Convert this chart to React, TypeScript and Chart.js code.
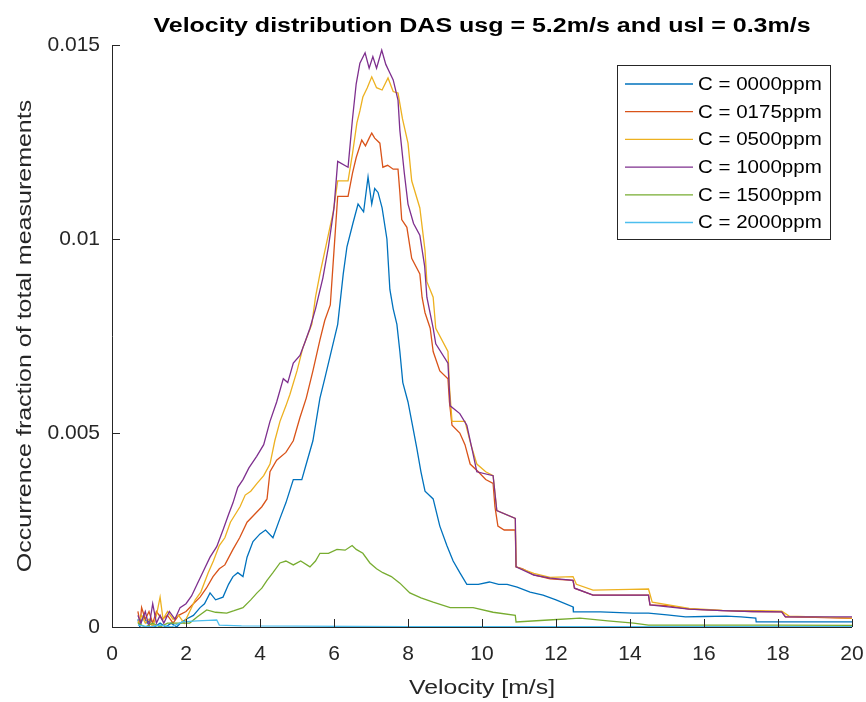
import React, { useEffect, useRef } from "react";
import { Chart, registerables } from "chart.js";

Chart.register(...registerables);

const TITLE = "Velocity distribution DAS usg = 5.2m/s and usl = 0.3m/s";
const X_TITLE = "Velocity [m/s]";
const Y_TITLE = "Occurrence fraction of total measurements";

const seriesLabels = ["C = 0000ppm", "C = 0175ppm", "C = 0500ppm", "C = 1000ppm", "C = 1500ppm", "C = 2000ppm"];
const seriesColors = ["#0072BD", "#D95319", "#EDB120", "#7E2F8E", "#77AC30", "#4DBEEE"];

const xTicks = [0, 2, 4, 6, 8, 10, 12, 14, 16, 18, 20];
const yTicks = [0, 0.005, 0.01, 0.015];

const c0000: number[][] = [
  [0.7, 0.0002], [0.75, 0], [0.85, 0.0003], [0.95, 0.0001], [1.05, 0.0002], [1.15, 0], [1.3, 0.0001], [1.45, 0],
  [1.6, 0.0001], [1.75, 0], [1.85, 0.0001], [2.0, 0.0002], [2.2, 0.0003], [2.38, 0.0005], [2.5, 0.0006], [2.65, 0.00088],
  [2.8, 0.0007], [3.0, 0.00077], [3.15, 0.0011], [3.27, 0.0013], [3.4, 0.0014], [3.54, 0.0013], [3.65, 0.0018], [3.81, 0.0022],
  [4.0, 0.0024], [4.15, 0.0025], [4.35, 0.0023], [4.54, 0.0028], [4.7, 0.0032], [4.9, 0.0038], [5.13, 0.0038], [5.25, 0.0042],
  [5.43, 0.0048], [5.62, 0.0059], [5.75, 0.0064], [5.9, 0.007], [6.1, 0.0078], [6.25, 0.0091], [6.35, 0.0098], [6.51, 0.0104],
  [6.65, 0.0109], [6.8, 0.0107], [6.92, 0.0116], [7.02, 0.0109], [7.1, 0.0113], [7.19, 0.0112], [7.3, 0.0108], [7.43, 0.01],
  [7.51, 0.0087], [7.6, 0.0082], [7.7, 0.0078], [7.78, 0.0071], [7.86, 0.0063], [8.0, 0.0058], [8.12, 0.0052], [8.24, 0.0046],
  [8.35, 0.004], [8.46, 0.0035], [8.68, 0.0033], [8.86, 0.0026], [9.05, 0.0021], [9.22, 0.0017], [9.4, 0.0014], [9.59, 0.0011],
  [9.9, 0.0011], [10.2, 0.00116], [10.45, 0.0011], [10.68, 0.0011], [10.95, 0.00103], [11.3, 0.0009], [11.65, 0.00082],
  [12.0, 0.0007], [12.46, 0.00052], [12.47, 0.00039], [13.2, 0.00039], [14.08, 0.00036], [14.5, 0.00036], [15.0, 0.00031],
  [15.5, 0.00026], [16.0, 0.00027], [16.6, 0.00028], [17.0, 0.00026], [17.4, 0.00023], [17.41, 0.00013], [18.5, 0.00013],
  [19.5, 0.00013], [20, 0.00013],
];

const c0175: number[][] = [
  [0.7, 0.0004], [0.76, 0.0001], [0.8, 0.0005], [0.9, 0.0002], [1.0, 0.0004], [1.1, 0.0001], [1.2, 0.0004], [1.35, 0.0002],
  [1.5, 0.0003], [1.65, 0.0001], [1.8, 0.0003], [2.0, 0.0004], [2.2, 0.0006], [2.38, 0.00077], [2.55, 0.001], [2.73, 0.0013],
  [2.9, 0.0015], [3.05, 0.0016], [3.27, 0.002], [3.45, 0.0023], [3.65, 0.0027], [3.85, 0.0029], [4.05, 0.0031], [4.19, 0.0033],
  [4.27, 0.004], [4.45, 0.0043], [4.7, 0.0045], [4.9, 0.0048], [5.08, 0.0054], [5.25, 0.0059], [5.43, 0.0066], [5.62, 0.0074],
  [5.75, 0.0079], [5.9, 0.0083], [6.0, 0.0097], [6.1, 0.0111], [6.38, 0.0111], [6.5, 0.0117], [6.6, 0.0121], [6.75, 0.01255],
  [6.85, 0.0124], [6.95, 0.0126], [7.02, 0.01273], [7.1, 0.0126], [7.24, 0.01247], [7.32, 0.01185], [7.45, 0.0119], [7.6, 0.0118],
  [7.73, 0.0118], [7.78, 0.0112], [7.83, 0.0105], [7.97, 0.0103], [8.1, 0.0095], [8.32, 0.0091], [8.38, 0.0085], [8.46, 0.0081],
  [8.6, 0.0077], [8.68, 0.0071], [8.86, 0.0066], [9.08, 0.0064], [9.12, 0.0058], [9.19, 0.0052], [9.4, 0.005], [9.54, 0.0047],
  [9.68, 0.0042], [9.9, 0.004], [10.1, 0.0038], [10.3, 0.0037], [10.35, 0.0031], [10.43, 0.0026], [10.6, 0.0025], [10.9, 0.0025],
  [10.92, 0.00155], [11.1, 0.0015], [11.4, 0.00134], [11.84, 0.00124], [12.46, 0.0012], [12.5, 0.001], [13.0, 0.00082],
  [14.0, 0.00082], [14.5, 0.00082], [14.54, 0.00057], [15.0, 0.00055], [15.6, 0.00046], [16.5, 0.00042], [17.3, 0.0004],
  [18.1, 0.00039], [18.2, 0.00026], [19.0, 0.00025], [20, 0.00022],
];

const c0500: number[][] = [
  [0.7, 0.0001], [0.8, 0.0003], [0.9, 0.0001], [1.0, 0.0002], [1.1, 0], [1.2, 0.0003], [1.3, 0.00077], [1.38, 0.0002],
  [1.5, 0.0004], [1.65, 0.0002], [1.8, 0.0003], [1.95, 0.0001], [2.1, 0.0004], [2.25, 0.0007], [2.4, 0.0009], [2.6, 0.0014],
  [2.74, 0.0017], [2.9, 0.0021], [3.05, 0.0023], [3.2, 0.0027], [3.46, 0.0031], [3.6, 0.0034], [3.75, 0.0035], [3.92, 0.0037],
  [4.1, 0.0039], [4.27, 0.0042], [4.4, 0.0048], [4.54, 0.0053], [4.7, 0.0057], [4.81, 0.006], [5.0, 0.0066], [5.16, 0.0072],
  [5.4, 0.0078], [5.5, 0.0085], [5.62, 0.0091], [5.8, 0.0099], [5.98, 0.0107], [6.1, 0.0115], [6.38, 0.0115], [6.5, 0.0122],
  [6.62, 0.013], [6.7, 0.0133], [6.78, 0.01366], [6.9, 0.0139], [7.02, 0.01418], [7.15, 0.0139], [7.3, 0.01384], [7.46, 0.01415],
  [7.6, 0.0138], [7.73, 0.01376], [7.85, 0.0131], [8.0, 0.01247], [8.1, 0.0115], [8.32, 0.0108], [8.46, 0.0097], [8.51, 0.0089],
  [8.68, 0.0085], [8.75, 0.0077], [9.08, 0.0071], [9.12, 0.0062], [9.19, 0.0053], [9.54, 0.0053], [9.7, 0.0047], [9.86, 0.0042],
  [10.1, 0.004], [10.3, 0.0039], [10.4, 0.003], [10.9, 0.0028], [10.92, 0.00155], [11.4, 0.00138], [11.84, 0.00128],
  [12.46, 0.0013], [12.55, 0.0011], [13.0, 0.00095], [14.0, 0.00097], [14.5, 0.00098], [14.6, 0.00064], [15.6, 0.00048],
  [16.5, 0.00043], [17.5, 0.00042], [18.1, 0.00041], [18.3, 0.00028], [19.0, 0.00026], [20, 0.00023],
];

const c1000: number[][] = [
  [0.7, 0.0003], [0.78, 0.0001], [0.9, 0.0004], [1.0, 0], [1.1, 0.0006], [1.2, 0.0001], [1.3, 0.0003], [1.4, 0.0001],
  [1.55, 0.0004], [1.7, 0.0002], [1.84, 0.0005], [2.0, 0.0006], [2.15, 0.0008], [2.3, 0.0011], [2.5, 0.0015], [2.65, 0.0018],
  [2.83, 0.00207], [3.0, 0.0025], [3.15, 0.0029], [3.27, 0.0032], [3.4, 0.0036], [3.54, 0.0038], [3.7, 0.0041], [3.91, 0.0044],
  [4.1, 0.0047], [4.27, 0.0053], [4.45, 0.0058], [4.63, 0.0064], [4.75, 0.0063], [4.9, 0.0068], [5.08, 0.007], [5.2, 0.0073],
  [5.35, 0.0077], [5.5, 0.0082], [5.7, 0.009], [5.85, 0.0098], [6.0, 0.0108], [6.1, 0.012], [6.38, 0.01185], [6.5, 0.0131],
  [6.6, 0.014], [6.7, 0.01453], [6.84, 0.0148], [6.95, 0.0144], [7.05, 0.0147], [7.15, 0.0144], [7.29, 0.01487], [7.4, 0.0145],
  [7.51, 0.01428], [7.6, 0.0141], [7.73, 0.01358], [7.78, 0.0128], [7.9, 0.0117], [8.0, 0.0109], [8.15, 0.0104], [8.32, 0.0101],
  [8.45, 0.0093], [8.51, 0.0085], [8.68, 0.0077], [8.75, 0.0073], [9.08, 0.0068], [9.14, 0.0057], [9.4, 0.0055], [9.59, 0.0052],
  [9.75, 0.0045], [9.86, 0.004], [10.3, 0.0039], [10.4, 0.003], [10.9, 0.0028], [10.92, 0.00155], [11.4, 0.00134],
  [11.84, 0.00126], [12.46, 0.0012], [12.5, 0.001], [13.0, 0.00082], [14.0, 0.00082], [14.5, 0.00082], [14.54, 0.00057],
  [15.6, 0.00046], [16.5, 0.00042], [17.3, 0.0004], [18.1, 0.00039], [18.2, 0.00026], [19.0, 0.00026], [20, 0.00026],
];

const c1500: number[][] = [
  [0.7, 0.0001], [0.9, 0], [1.1, 0.0001], [1.3, 0], [1.5, 0.0001], [1.65, 0.0001], [1.9, 0.0001], [2.1, 0.0001],
  [2.3, 0.00026], [2.56, 0.00044], [2.8, 0.00038], [3.1, 0.00036], [3.3, 0.00042], [3.54, 0.0005], [3.75, 0.0007], [3.92, 0.00088],
  [4.05, 0.001], [4.19, 0.0012], [4.35, 0.0014], [4.54, 0.00165], [4.7, 0.0017], [4.9, 0.0016], [5.1, 0.0017], [5.35, 0.00155],
  [5.5, 0.0017], [5.62, 0.0019], [5.85, 0.0019], [6.08, 0.002], [6.3, 0.00198], [6.49, 0.0021], [6.6, 0.002], [6.78, 0.0019],
  [6.97, 0.00165], [7.15, 0.0015], [7.32, 0.0014], [7.55, 0.0013], [7.78, 0.00113], [8.05, 0.00088], [8.35, 0.00075],
  [8.68, 0.00064], [9.14, 0.0005], [9.76, 0.0005], [10.3, 0.00038], [10.9, 0.0003], [10.92, 0.00013], [11.8, 0.00018],
  [12.65, 0.00023], [13.4, 0.00016], [14.1, 0.0001], [14.5, 0.00005], [16, 0.00005], [18, 0.00005], [20, 0.00004],
];

const c2000: number[][] = [
  [0.7, 0.00005], [1.0, 0], [1.3, 0.00005], [1.6, 0], [1.9, 0.00013], [2.3, 0.00016], [2.6, 0.00017], [2.83, 0.00018],
  [2.9, 0.00005], [3.5, 0.00003], [5, 0.00002], [8, 0.00001], [12, 0.00001], [20, 0.00001],
];

const seriesData = [c0000, c0175, c0500, c1000, c1500, c2000];

const FONT = "'Liberation Sans', Arial, Helvetica, sans-serif";
const AXIS_COLOR = "#262626";

function stretchedText(ctx: CanvasRenderingContext2D, text: string, x: number, y: number, sx: number, rot = 0) {
  ctx.save();
  ctx.translate(x, y);
  if (rot) ctx.rotate(rot);
  ctx.scale(sx, 1);
  ctx.fillText(text, 0, 0);
  ctx.restore();
}

const decorPlugin = {
  id: "decor",
  afterDraw(chart: any) {
    const ctx: CanvasRenderingContext2D = chart.ctx;
    const { left, right, top, bottom } = chart.chartArea;
    const xs = chart.scales.x;
    const ys = chart.scales.y;
    ctx.save();
    // axes
    ctx.strokeStyle = AXIS_COLOR;
    ctx.lineWidth = 1;
    ctx.beginPath();
    ctx.moveTo(left + 0.5, top);
    ctx.lineTo(left + 0.5, bottom + 0.5);
    ctx.lineTo(right, bottom + 0.5);
    ctx.stroke();
    // inward ticks
    ctx.beginPath();
    xTicks.forEach((v) => {
      const px = Math.round(xs.getPixelForValue(v)) + 0.5;
      ctx.moveTo(px, bottom);
      ctx.lineTo(px, bottom - 8);
    });
    yTicks.forEach((v) => {
      const py = Math.round(ys.getPixelForValue(v)) + 0.5;
      ctx.moveTo(left, py);
      ctx.lineTo(left + 8, py);
    });
    ctx.stroke();

    // title
    ctx.fillStyle = "#000000";
    ctx.font = `bold 20px ${FONT}`;
    ctx.textAlign = "center";
    ctx.textBaseline = "alphabetic";
    stretchedText(ctx, TITLE, (left + right) / 2, 32, 1.25);

    // axis titles
    ctx.fillStyle = AXIS_COLOR;
    ctx.font = `20px ${FONT}`;
    ctx.textBaseline = "middle";
    stretchedText(ctx, X_TITLE, (left + right) / 2, 688, 1.24);
    stretchedText(ctx, Y_TITLE, 25, (top + bottom) / 2, 1.25, -Math.PI / 2);

    // legend
    const lx = 617, ly = 65, lw = 213, lh = 174;
    ctx.fillStyle = "#ffffff";
    ctx.fillRect(lx, ly, lw, lh);
    ctx.strokeStyle = AXIS_COLOR;
    ctx.lineWidth = 1;
    ctx.strokeRect(lx + 0.5, ly + 0.5, lw, lh);
    ctx.font = `18px ${FONT}`;
    ctx.textAlign = "left";
    ctx.textBaseline = "middle";
    seriesLabels.forEach((lab, i) => {
      const ry = 84 + i * 27.7;
      ctx.strokeStyle = seriesColors[i];
      ctx.lineWidth = 1.3;
      ctx.beginPath();
      ctx.moveTo(625, ry);
      ctx.lineTo(693, ry);
      ctx.stroke();
      ctx.fillStyle = "#000000";
      stretchedText(ctx, lab, 698, ry + 1, 1.14);
    });
    ctx.restore();
  },
};

export default function App() {
  const ref = useRef<HTMLCanvasElement | null>(null);
  useEffect(() => {
    if (!ref.current) return;
    const datasets = seriesData.map((d, i) => ({
      label: seriesLabels[i],
      data: d.map((p) => ({ x: p[0], y: p[1] })),
      borderColor: seriesColors[i],
      backgroundColor: seriesColors[i],
      borderWidth: 1.3,
      pointRadius: 0,
      tension: 0,
      fill: false,
      order: 5 - i,
    }));
    const zeroPad = (s: any) => {
      s.paddingLeft = 0;
      s.paddingRight = 0;
      s.paddingTop = 0;
      s.paddingBottom = 0;
    };
    const chart = new Chart(ref.current, {
      type: "line",
      data: { datasets },
      options: {
        responsive: false,
        animation: false,
        layout: { padding: { left: 0, right: 14, top: 45, bottom: 0 } },
        plugins: {
          legend: { display: false },
          title: { display: false },
          tooltip: { enabled: false },
        },
        scales: {
          x: {
            type: "linear",
            min: 0,
            max: 20,
            afterFit: (s: any) => {
              s.height = 75;
              zeroPad(s);
            },
            afterBuildTicks: (s: any) => {
              s.ticks = xTicks.map((v) => ({ value: v }));
            },
            grid: { display: false, drawTicks: false },
            border: { display: false },
            ticks: {
              padding: 15,
              maxRotation: 0,
              color: AXIS_COLOR,
              font: { family: FONT, size: 21 },
              callback: (v: any) => String(v),
            },
          },
          y: {
            type: "linear",
            min: 0,
            max: 0.015,
            afterFit: (s: any) => {
              s.width = 112;
              zeroPad(s);
            },
            afterBuildTicks: (s: any) => {
              s.ticks = yTicks.map((v) => ({ value: v }));
            },
            grid: { display: false, drawTicks: false },
            border: { display: false },
            ticks: {
              padding: 12,
              color: AXIS_COLOR,
              font: { family: FONT, size: 21 },
              callback: (v: any) => String(Math.round(Number(v) * 1000) / 1000),
            },
          },
        },
      },
      plugins: [decorPlugin],
    } as any);
    return () => chart.destroy();
  }, []);
  return (
    <div style={{ position: "absolute", left: 0, top: 0, width: 866, height: 702, background: "#fff" }}>
      <canvas ref={ref} width={866} height={702} style={{ display: "block" }} />
    </div>
  );
}
